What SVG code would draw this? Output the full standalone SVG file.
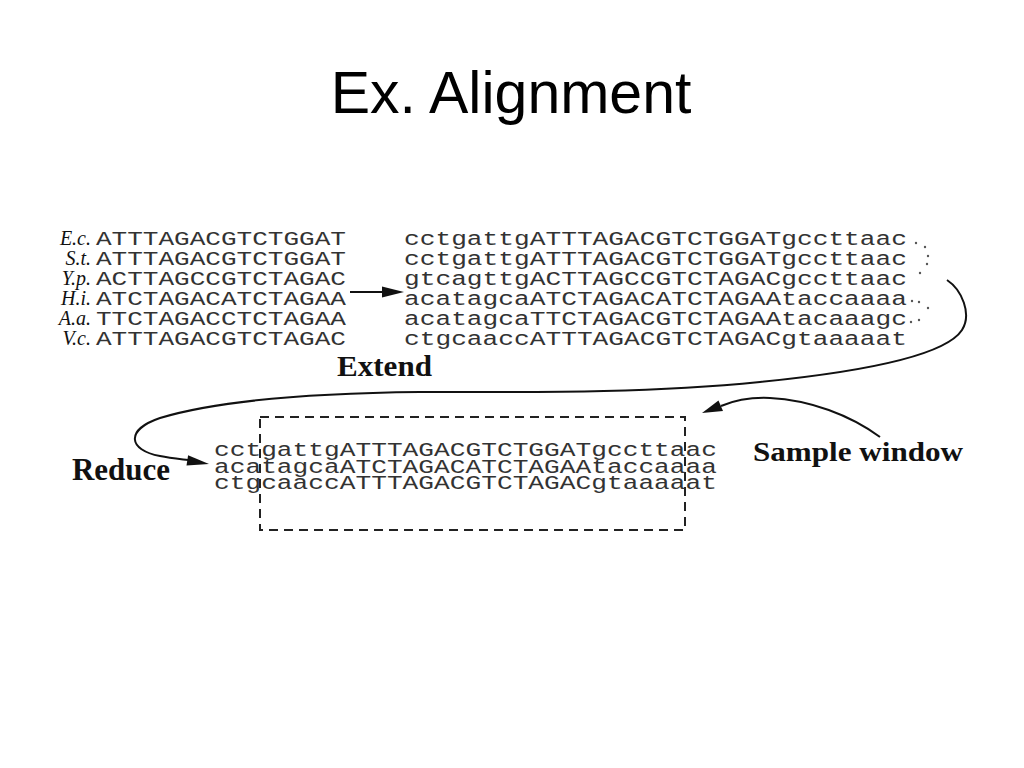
<svg xmlns="http://www.w3.org/2000/svg" width="1024" height="768" viewBox="0 0 1024 768">
<style>
.title{font-family:"Liberation Sans",Arial,sans-serif;font-size:59px;fill:#000}
.seq{font-family:"Liberation Mono","Courier New",monospace;font-size:20.5px;fill:#333}
.seqs{font-family:"Liberation Mono","Courier New",monospace;font-size:19.5px;fill:#333}
.sp{font-family:"Liberation Serif","Times New Roman",serif;font-style:italic;font-size:20px;fill:#111}
.lbl{font-family:"Liberation Serif","Times New Roman",serif;font-weight:bold;fill:#111}
.conn{fill:none;stroke:#111;stroke-width:2}
.head{fill:#111}
.win{fill:none;stroke:#222;stroke-width:2;stroke-dasharray:9 6}
.dot{fill:#555}
</style>
<rect width="1024" height="768" fill="#fff"/>
<g id="title"><text class="title" x="511" y="113" text-anchor="middle">Ex. Alignment</text></g>

<g id="species-labels">
<text class="sp" x="91" y="245" text-anchor="end">E.c.</text>
<text class="sp" x="91" y="265" text-anchor="end">S.t.</text>
<text class="sp" x="91" y="285" text-anchor="end">Y.p.</text>
<text class="sp" x="91" y="305" text-anchor="end">H.i.</text>
<text class="sp" x="91" y="325" text-anchor="end">A.a.</text>
<text class="sp" x="91" y="345" text-anchor="end">V.c.</text>
</g>

<g id="core-block">
<text class="seq" x="96" y="245" textLength="250" lengthAdjust="spacingAndGlyphs">ATTTAGACGTCTGGAT</text>
<text class="seq" x="96" y="265" textLength="250" lengthAdjust="spacingAndGlyphs">ATTTAGACGTCTGGAT</text>
<text class="seq" x="96" y="285" textLength="250" lengthAdjust="spacingAndGlyphs">ACTTAGCCGTCTAGAC</text>
<text class="seq" x="96" y="305" textLength="250" lengthAdjust="spacingAndGlyphs">ATCTAGACATCTAGAA</text>
<text class="seq" x="96" y="325" textLength="250" lengthAdjust="spacingAndGlyphs">TTCTAGACCTCTAGAA</text>
<text class="seq" x="96" y="345" textLength="250" lengthAdjust="spacingAndGlyphs">ATTTAGACGTCTAGAC</text>
</g>

<g id="extended-block">
<text class="seq" x="404" y="245" textLength="503" lengthAdjust="spacingAndGlyphs">cctgattgATTTAGACGTCTGGATgccttaac</text>
<text class="seq" x="404" y="265" textLength="503" lengthAdjust="spacingAndGlyphs">cctgattgATTTAGACGTCTGGATgccttaac</text>
<text class="seq" x="404" y="285" textLength="503" lengthAdjust="spacingAndGlyphs">gtcagttgACTTAGCCGTCTAGACgccttaac</text>
<text class="seq" x="404" y="305" textLength="503" lengthAdjust="spacingAndGlyphs">acatagcaATCTAGACATCTAGAAtaccaaaa</text>
<text class="seq" x="404" y="325" textLength="503" lengthAdjust="spacingAndGlyphs">acatagcaTTCTAGACGTCTAGAAtacaaagc</text>
<text class="seq" x="404" y="345" textLength="503" lengthAdjust="spacingAndGlyphs">ctgcaaccATTTAGACGTCTAGACgtaaaaat</text>
<circle class="dot" cx="916" cy="243" r="1.2"/><circle class="dot" cx="925" cy="247" r="1.2"/>
<circle class="dot" cx="928" cy="256" r="1.2"/><circle class="dot" cx="927" cy="264" r="1.2"/>
<circle class="dot" cx="920" cy="273" r="1.2"/>
<circle class="dot" cx="912" cy="301" r="1.2"/><circle class="dot" cx="919" cy="302" r="1.2"/><circle class="dot" cx="928" cy="308" r="1.2"/>
<circle class="dot" cx="911" cy="322" r="1.2"/><circle class="dot" cx="919" cy="320" r="1.2"/>
</g>

<g id="extend-label"><text class="lbl" x="337" y="376" font-size="29" textLength="95" lengthAdjust="spacingAndGlyphs">Extend</text></g>

<g id="reduced-block">
<rect class="win" x="260" y="417" width="425" height="113"/>
<text class="seqs" x="214" y="456" textLength="503" lengthAdjust="spacingAndGlyphs">cctgattgATTTAGACGTCTGGATgccttaac</text>
<text class="seqs" x="214" y="472.5" textLength="503" lengthAdjust="spacingAndGlyphs">acatagcaATCTAGACATCTAGAAtaccaaaa</text>
<text class="seqs" x="214" y="489" textLength="503" lengthAdjust="spacingAndGlyphs">ctgcaaccATTTAGACGTCTAGACgtaaaaat</text>
</g>

<g id="reduce-label"><text class="lbl" x="72" y="480" font-size="32" textLength="98" lengthAdjust="spacingAndGlyphs">Reduce</text></g>
<g id="sample-window-label"><text class="lbl" x="753" y="461" font-size="28" textLength="210" lengthAdjust="spacingAndGlyphs">Sample window</text></g>

<g id="connectors">
<line class="conn" x1="350" y1="292" x2="384" y2="292"/>
<polygon class="head" points="404,292 382,286.5 382,297.5"/>
<path class="conn" d="M 947 280 C 962 290, 972 314, 962 330 C 945 356, 860 372, 760 382 C 640 394, 520 392, 420 392 C 320 393, 220 400, 160 418 C 125 430, 128 450, 160 456 C 170 458, 180 459, 188 460"/>
<polygon class="head" points="209,464 186.5,465.5 188.1,455.2"/>
<path class="conn" d="M 880 437 C 850 415, 810 400, 770 398 C 748 397, 733 401, 721 406"/>
<polygon class="head" points="702,413 723,411 718.5,400.5"/>
</g>
</svg>
